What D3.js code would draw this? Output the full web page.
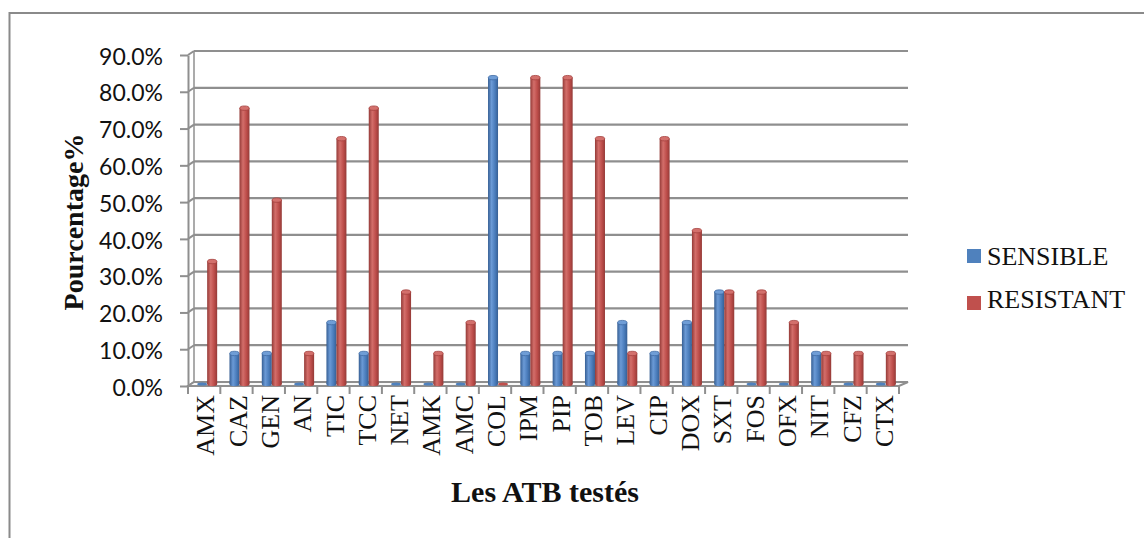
<!DOCTYPE html>
<html><head><meta charset="utf-8">
<script src="https://cdn.jsdelivr.net/npm/d3@7"></script>
<style>body{margin:0;background:#fff}svg{display:block}</style>
</head><body>
<svg id="c" width="1144" height="538"></svg>
<script>
const categories = ["AMX","CAZ","GEN","AN","TIC","TCC","NET","AMK","AMC","COL","IPM","PIP","TOB","LEV","CIP","DOX","SXT","FOS","OFX","NIT","CFZ","CTX"];
const sensible  = [0, 8.3, 8.3, 0, 16.7, 8.3, 0, 0, 0, 83.3, 8.3, 8.3, 8.3, 16.7, 8.3, 16.7, 25, 0, 0, 8.3, 0, 0];
const resistant = [33.3, 75, 50, 8.3, 66.7, 75, 25, 8.3, 16.7, 0, 83.3, 83.3, 66.7, 8.3, 66.7, 41.7, 25, 25, 16.7, 8.3, 8.3, 8.3];
const yTicks = [0,10,20,30,40,50,60,70,80,90];
const seriesNames = ["SENSIBLE","RESISTANT"];
const seriesColors = ["#4F81BD","#C0504D"];

const svg = d3.select("#c");
const defs = svg.append("defs");
function grad(id, edge, mid, hi){
  const g = defs.append("linearGradient").attr("id",id).attr("x1","0").attr("x2","1").attr("y1","0").attr("y2","0");
  g.append("stop").attr("offset","0").attr("stop-color",edge);
  g.append("stop").attr("offset","0.35").attr("stop-color",hi);
  g.append("stop").attr("offset","0.7").attr("stop-color",mid);
  g.append("stop").attr("offset","1").attr("stop-color",edge);
}
grad("gb","#365f94","#4a7cbb","#6b9ad6");
grad("gr","#943a37","#bd4d4a","#d36e6a");

// border
svg.append("rect").attr("x",9.5).attr("y",13).attr("width",1200).attr("height",600)
  .attr("fill","none").attr("stroke","#8a8a8a").attr("stroke-width",2);

// 3D geometry
const DX = 6, DY = -4;
const xFront = d3.scaleBand().domain(categories).range([188, 899]);
const yFront = d3.scaleLinear().domain([0,90]).range([386, 55]);
const yBack = v => yFront(v) + DY;
const yMid = v => yFront(v) + DY/2;

const gridC = "#8f8f8f";
const gGrid = svg.append("g");
yTicks.forEach(t=>{
  gGrid.append("line").attr("x1",188+DX).attr("x2",899+DX+3).attr("y1",yBack(t)).attr("y2",yBack(t))
    .attr("stroke",gridC).attr("stroke-width",2.2);
  gGrid.append("line").attr("x1",188).attr("x2",188+DX).attr("y1",yFront(t)).attr("y2",yBack(t))
    .attr("stroke",gridC).attr("stroke-width",2);
});
gGrid.append("line").attr("x1",188+DX).attr("x2",188+DX).attr("y1",yBack(90)).attr("y2",yBack(0)).attr("stroke",gridC).attr("stroke-width",1.5);
const fl = [[188,yFront(0)],[899,yFront(0)],[899+DX+3,yBack(0)],[188+DX,yBack(0)]];
svg.append("path").attr("d","M"+fl.map(p=>p.join(",")).join("L")+"Z")
  .attr("fill","#fafafa").attr("stroke",gridC).attr("stroke-width",2);

// y axis (front)
const yAxis = d3.axisLeft(yFront).tickValues(yTicks).tickSize(8).tickSizeOuter(0)
  .tickFormat(d=>d3.format(".1f")(d)+"%");
const ga = svg.append("g").attr("transform","translate(188,0)").call(yAxis);
ga.select(".domain").attr("stroke",gridC).attr("stroke-width",2);
ga.selectAll(".tick line").attr("stroke",gridC).attr("stroke-width",2);
ga.selectAll(".tick text").attr("x",-25).attr("dy","0.4em")
  .attr("font-family","Lato, 'Liberation Sans', sans-serif").attr("font-size",23).attr("fill","#111");

// x axis (front)
const xAxis = d3.axisBottom(xFront).tickSize(8).tickSizeOuter(0).tickFormat("");
const gx = svg.append("g").attr("transform",`translate(0,${yFront(0)})`).call(xAxis);
gx.select(".domain").remove();
gx.selectAll(".tick line").remove();
gx.selectAll(".bnd").data(d3.range(categories.length+1)).join("line")
  .attr("x1",i=>188+i*xFront.step()).attr("x2",i=>188+i*xFront.step())
  .attr("y1",0).attr("y2",8).attr("stroke",gridC).attr("stroke-width",2);
svg.append("g").selectAll("text").data(categories).join("text")
  .attr("transform",d=>`translate(${xFront(d)+xFront.bandwidth()/2+1},395) rotate(-90)`)
  .attr("text-anchor","end").attr("dy","0.35em")
  .attr("font-family","'Liberation Serif','Times New Roman',serif").attr("font-size",26).attr("fill","#111")
  .text(d=>d);

// bars
const bw = 10;
const gBars = svg.append("g");
categories.forEach((c,i)=>{
  const cx = xFront(c)+xFront.bandwidth()/2 + DX/2;
  [sensible[i], resistant[i]].forEach((v,s)=>{
    const x0 = cx - bw + s*bw;
    const yb = yMid(0), yt = yMid(v);
    const ry = 2.2;
    const g = gBars.append("g");
    if (v > 0) {
      g.append("rect").attr("x",x0).attr("y",yt).attr("width",bw).attr("height",yb-yt)
        .attr("fill",s?"url(#gr)":"url(#gb)");
      g.append("ellipse").attr("cx",x0+bw/2).attr("cy",yb).attr("rx",bw/2).attr("ry",ry)
        .attr("fill",s?"url(#gr)":"url(#gb)");
      g.append("ellipse").attr("cx",x0+bw/2).attr("cy",yt).attr("rx",bw/2-0.3).attr("ry",ry)
        .attr("fill",s?"#d3706c":"#6f9dd6").attr("stroke",s?"#a5403d":"#3e6aa3").attr("stroke-width",0.8);
    } else {
      g.append("ellipse").attr("cx",x0+bw/2).attr("cy",yb).attr("rx",bw/2).attr("ry",1.6)
        .attr("fill",seriesColors[s]);
    }
  });
});

// axis titles
svg.append("text").attr("x",545).attr("y",502).attr("text-anchor","middle")
  .attr("font-family","'Liberation Serif','Times New Roman',serif").attr("font-weight","bold").attr("font-size",30)
  .attr("fill","#111").text("Les ATB testés");
svg.append("text").attr("transform","translate(83,222) rotate(-90)").attr("text-anchor","middle")
  .attr("font-family","'Liberation Serif','Times New Roman',serif").attr("font-weight","bold").attr("font-size",28)
  .attr("fill","#111").text("Pourcentage%");

// legend
const lg = svg.append("g");
seriesNames.forEach((n,i)=>{
  lg.append("rect").attr("x",967).attr("y",249+i*47).attr("width",14).attr("height",14).attr("fill",seriesColors[i]);
  lg.append("text").attr("x",987).attr("y",265+i*43).attr("font-family","'Liberation Serif','Times New Roman',serif")
    .attr("font-size",26).attr("fill","#111").text(n);
});
</script>
</body></html>
